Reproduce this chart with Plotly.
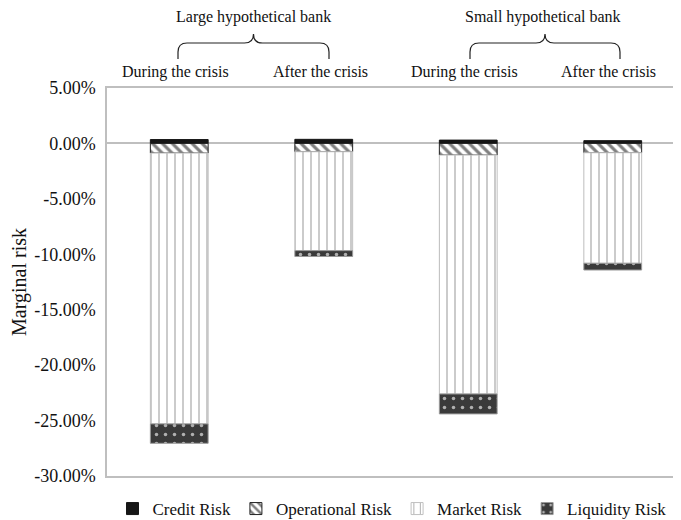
import plotly.graph_objects as go

categories = ["Large - During the crisis", "Large - After the crisis",
              "Small - During the crisis", "Small - After the crisis"]
credit_risk = [0.0035, 0.0037, 0.0030, 0.0025]
operational_risk = [-0.0087, -0.0075, -0.0105, -0.0084]
market_risk = [-0.2443, -0.0892, -0.2155, -0.0997]
liquidity_risk = [-0.0175, -0.0053, -0.0180, -0.0061]

group_labels = ["Large hypothetical bank", "Small hypothetical bank"]
period_labels = ["During the crisis", "After the crisis", "During the crisis", "After the crisis"]
y_ticks = [0.05, 0.0, -0.05, -0.10, -0.15, -0.20, -0.25, -0.30]
y_tick_labels = ["5.00%", "0.00%", "-5.00%", "-10.00%", "-15.00%", "-20.00%", "-25.00%", "-30.00%"]

FONT = "Liberation Serif, Times New Roman, serif"
W, H = 681, 520
OFF = 8  # page body margin offset in the screenshot
# target plot box in screenshot pixels
PL, PT, PB = 107, 88, 476
PW = 578
PH = PB - PT
L = PL - OFF
T = PT - OFF
B = H - (PB - OFF)
R = W - (L + PW)

def px(x):
    return (x - PL) / PW

def py(y):
    return (PB - y) / PH

fig = go.Figure()
fig.add_bar(name="Credit Risk", x=categories, y=credit_risk, width=0.4,
            marker=dict(color="#161616", line=dict(color="#161616", width=1)))
fig.add_bar(name="Operational Risk", x=categories, y=operational_risk, width=0.4,
            marker=dict(color="white", line=dict(color="#222222", width=1),
                        pattern=dict(shape="\\", fgcolor="#808080", bgcolor="white",
                                     size=7, solidity=0.45, fillmode="replace")))
fig.add_bar(name="Market Risk", x=categories, y=market_risk, width=0.4,
            marker=dict(color="white", line=dict(color="#c0c0c0", width=1),
                        pattern=dict(shape="|", fgcolor="#a8a8a8", bgcolor="white",
                                     size=8, solidity=0.15, fillmode="replace")))
fig.add_bar(name="Liquidity Risk", x=categories, y=liquidity_risk, width=0.4,
            marker=dict(color="#3a3a3a", line=dict(color="#9a9a9a", width=1),
                        pattern=dict(shape=".", fgcolor="#b0b0b0", bgcolor="#3a3a3a",
                                     size=9, solidity=0.12, fillmode="replace")))

annotations = []
for text, cx in zip(group_labels, [253, 543]):
    annotations.append(dict(text=text, x=px(cx), y=py(17), xref="paper", yref="paper",
                            showarrow=False, font=dict(family=FONT, size=16, color="#111"),
                            xanchor="center", yanchor="middle"))
for text, cx in zip(period_labels, [175, 320, 464, 608]):
    annotations.append(dict(text=text, x=px(cx), y=py(72), xref="paper", yref="paper",
                            showarrow=False, font=dict(family=FONT, size=16, color="#111"),
                            xanchor="center", yanchor="middle"))

def brace(x0, x1, ytop, ymid, yend):
    xm = (x0 + x1) / 2
    r = 9
    pts = [
        ("M", [(x0, yend)]),
        ("L", [(x0, ymid + r)]),
        ("Q", [(x0, ymid), (x0 + r, ymid)]),
        ("L", [(xm - r, ymid)]),
        ("Q", [(xm, ymid), (xm, ytop)]),
        ("Q", [(xm, ymid), (xm + r, ymid)]),
        ("L", [(x1 - r, ymid)]),
        ("Q", [(x1, ymid), (x1, ymid + r)]),
        ("L", [(x1, yend)]),
    ]
    s = ""
    for cmd, ps in pts:
        s += cmd + " " + " ".join(f"{px(a):.5f},{py(b):.5f}" for a, b in ps) + " "
    return s.strip()

shapes = []
for x0, x1 in [(178, 329), (470, 620)]:
    shapes.append(dict(type="path", path=brace(x0, x1, 34, 43, 59), xref="paper", yref="paper",
                       line=dict(color="#222", width=1.2)))

fig.update_layout(
    width=W, height=H,
    margin=dict(l=L, r=R, t=T, b=B, autoexpand=False),
    barmode="relative",
    plot_bgcolor="white", paper_bgcolor="white",
    font=dict(family=FONT, color="#111"),
    showlegend=True,
    legend=dict(orientation="h", x=px(392), xanchor="center", y=py(509), yanchor="middle",
                font=dict(family=FONT, size=17, color="#111"), traceorder="normal",
                itemwidth=30, tracegroupgap=0),
    annotations=annotations,
    shapes=shapes,
    xaxis=dict(range=[-0.5, 3.5], showticklabels=False, ticks="", showgrid=False,
               showline=True, linecolor="#bfbfbf", linewidth=1.5, mirror=True, zeroline=False),
    yaxis=dict(range=[-0.30, 0.05], tickvals=y_ticks, ticktext=y_tick_labels, showgrid=False,
               showline=True, linecolor="#bfbfbf", linewidth=1.5,
               zeroline=True, zerolinecolor="#bfbfbf", zerolinewidth=1.5,
               tickfont=dict(family=FONT, size=18, color="#111"), ticks="",
               ticklabelstandoff=6,
               title=dict(text="Marginal risk", font=dict(family=FONT, size=20, color="#111"),
                          standoff=6)),
    bargap=0.6,
)

fig.write_html("out.html")
